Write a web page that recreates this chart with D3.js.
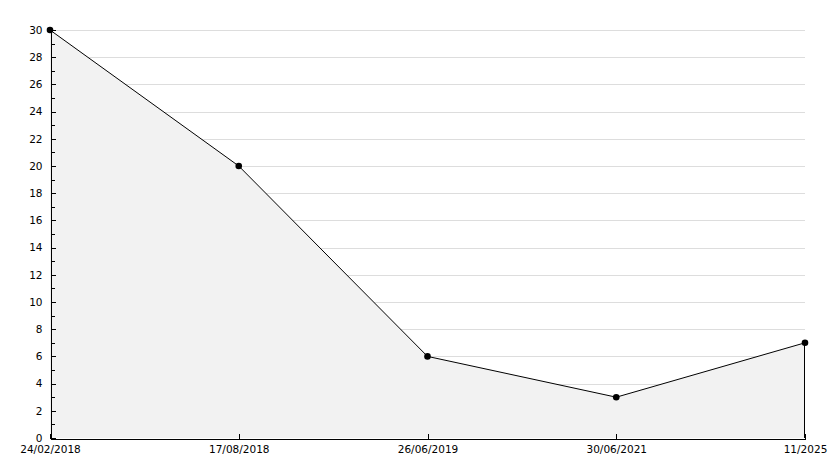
<!DOCTYPE html>
<html><head><meta charset="utf-8">
<script src="https://cdn.jsdelivr.net/npm/d3@7"></script>
<style>html,body{margin:0;padding:0;background:#fff}svg{display:block}</style>
</head><body>
<svg id="chart" width="834" height="468"></svg>
<script>
const categories = ["24/02/2018","17/08/2018","26/06/2019","30/06/2021","11/2025"];
const values = [30,20,6,3,7];
const majorTicks = [0,2,4,6,8,10,12,14,16,18,20,22,24,26,28,30];
const minorTicks = [1,3,5,7,9,11,13,15,17,19,21,23,25,27,29];

(function(){
const svg = d3.select("#chart");
const mLeft = 50, mRight = 805, mTop = 30, mBottom = 438;
const x = d3.scalePoint().domain(categories).range([mLeft, mRight]);
const y = d3.scaleLinear().domain([0,30]).range([mBottom, mTop]);
const font = "DejaVu Sans, sans-serif";

// grid
svg.append("g").selectAll("line").data(majorTicks.filter(d=>d>0)).join("line")
  .attr("x1", mLeft).attr("x2", mRight)
  .attr("y1", d=>Math.round(y(d))+0.5).attr("y2", d=>Math.round(y(d))+0.5)
  .attr("stroke", "#dddddd").attr("stroke-width", 1);

const data = categories.map((c,i)=>({c, v: values[i]}));
const area = d3.area().x(d=>x(d.c)).y0(mBottom).y1(d=>y(d.v));
svg.append("path").datum(data).attr("d", area)
  .attr("fill", "#f2f2f2").attr("stroke", "none");

// right edge of the filled area
const last = data[data.length-1];
svg.append("line")
  .attr("x1", x(last.c)-0.5).attr("x2", x(last.c)-0.5)
  .attr("y1", y(last.v)).attr("y2", mBottom)
  .attr("stroke", "#000").attr("stroke-width", 1).attr("shape-rendering", "crispEdges");

const line = d3.line().x(d=>x(d.c)).y(d=>y(d.v));
svg.append("path").datum(data).attr("d", line)
  .attr("fill", "none").attr("stroke", "#000").attr("stroke-width", 1);

// y axis
const yAxis = d3.axisLeft(y).tickValues(majorTicks).tickSizeInner(-5).tickSizeOuter(0).tickPadding(8).tickFormat(d3.format("d"));
const gy = svg.append("g").attr("transform", `translate(${mLeft+0.5},0)`).call(yAxis);
const yMinor = d3.axisLeft(y).tickValues(minorTicks).tickSizeInner(-4).tickSizeOuter(0).tickFormat("");
const gy2 = svg.append("g").attr("transform", `translate(${mLeft+0.5},0)`).call(yMinor);
gy2.select(".domain").remove();

// x axis
const xAxis = d3.axisBottom(x).tickSizeInner(-5).tickSizeOuter(0).tickPadding(7);
const gx = svg.append("g").attr("transform", `translate(0,${mBottom+0.5})`).call(xAxis);

[gy, gy2, gx].forEach(g=>{
  g.selectAll("text").attr("font-family", font).attr("font-size", 10.5).attr("fill", "#000");
  g.selectAll("line, path").attr("stroke", "#000").attr("shape-rendering", "crispEdges");
});

// markers
svg.append("g").selectAll("circle").data(data).join("circle")
  .attr("cx", d=>x(d.c)).attr("cy", d=>y(d.v)).attr("r", 3.3).attr("fill", "#000");
})();
</script>
</body></html>
